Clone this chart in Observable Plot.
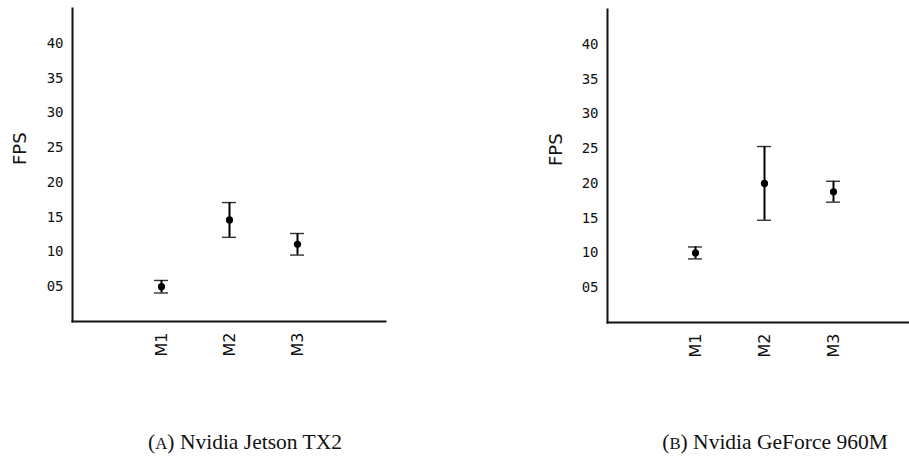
<!DOCTYPE html>
<html>
<head>
<meta charset="utf-8">
<script src="https://cdn.jsdelivr.net/npm/d3@7"></script>
<script src="https://cdn.jsdelivr.net/npm/@observablehq/plot@0.6"></script>
<style>
  html, body { margin: 0; padding: 0; background: #fff; }
  #page { position: relative; width: 909px; height: 459px; overflow: hidden; background: #fff; }
  .panel { position: absolute; top: 0; width: 401px; height: 380px; }
  .panel svg { max-width: none !important; display: block; }
  .caption {
    position: absolute; top: 430px; font-family: "Liberation Serif", "DejaVu Serif", serif;
    font-size: 21.5px; color: #111; white-space: nowrap; transform: translateX(-50%);
  }
  .caption .sc { font-size: 0.78em; }
</style>
</head>
<body>
<div id="page">
  <div class="panel" id="left" style="left:0px"></div>
  <div class="panel" id="right" style="left:520px"></div>
  <div class="caption" style="left:245px">(<span class="sc">A</span>) Nvidia Jetson TX2</div>
  <div class="caption" style="left:775px">(<span class="sc">B</span>) Nvidia GeForce 960M</div>
</div>
<script>
// Methods compared
const methods = ["M1", "M2", "M3"];

// Frames per second on Nvidia Jetson TX2: mean and half-width of the error bar
const tx2Mean = [5.0, 14.6, 11.1];
const tx2Err = [0.9, 2.5, 1.55];

// Frames per second on Nvidia GeForce 960M
const gtxMean = [10.0, 20.0, 18.8];
const gtxErr = [0.86, 5.3, 1.5];

// y-axis ticks, printed zero-padded
const yTicks = [5, 10, 15, 20, 25, 30, 35, 40];
const yLabel = ["FPS"];

function rows(means, errs) {
  return methods.map((m, i) => ({method: m, mean: means[i], lo: means[i] - errs[i], hi: means[i] + errs[i]}));
}

function fpsPanel(data, {width, height, marginLeft, marginRight, marginTop, marginBottom, labelDx}) {
  return Plot.plot({
    width, height, marginLeft, marginRight, marginTop, marginBottom,
    style: {background: "transparent", overflow: "visible"},
    x: {type: "band", domain: methods, paddingInner: 0.797, paddingOuter: 1.167, align: 0.5, axis: null},
    y: {domain: [0, 45], axis: null},
    marks: [
      Plot.axisY({ticks: yTicks, tickFormat: d3.format("02d"), tickSize: 0, tickPadding: 9,
        fontSize: 14, fontFamily: "DejaVu Sans Mono", label: null, color: "#111"}),
      Plot.axisX({tickRotate: -90, tickSize: 0, tickPadding: 11,
        fontSize: 16, fontFamily: "DejaVu Sans", label: null, color: "#111"}),
      Plot.text(yLabel, {frameAnchor: "left", dx: labelDx, rotate: -90, fontSize: 18,
        fontFamily: "DejaVu Sans", fill: "#111"}),
      Plot.frame({anchor: "left", stroke: "#111", strokeWidth: 2}),
      Plot.frame({anchor: "bottom", stroke: "#111", strokeWidth: 2}),
      // whisker caps
      Plot.tickY(data, {x: "method", y: "lo", stroke: "#333", strokeWidth: 1.4}),
      Plot.tickY(data, {x: "method", y: "hi", stroke: "#333", strokeWidth: 1.4}),
      // whisker stems
      Plot.ruleX(data, {x: "method", y1: "lo", y2: "hi", stroke: "#000", strokeWidth: 2}),
      // means
      Plot.dot(data, {x: "method", y: "mean", r: 3.6, fill: "#000", stroke: "none"})
    ]
  });
}

document.getElementById("left").append(fpsPanel(rows(tx2Mean, tx2Err), {
  width: 400, height: 380, marginLeft: 72, marginRight: 15, marginTop: 8, marginBottom: 59, labelDx: -52
}));
document.getElementById("right").append(fpsPanel(rows(gtxMean, gtxErr), {
  width: 401, height: 380, marginLeft: 87, marginRight: 0, marginTop: 9, marginBottom: 58, labelDx: -51
}));
</script>
</body>
</html>
